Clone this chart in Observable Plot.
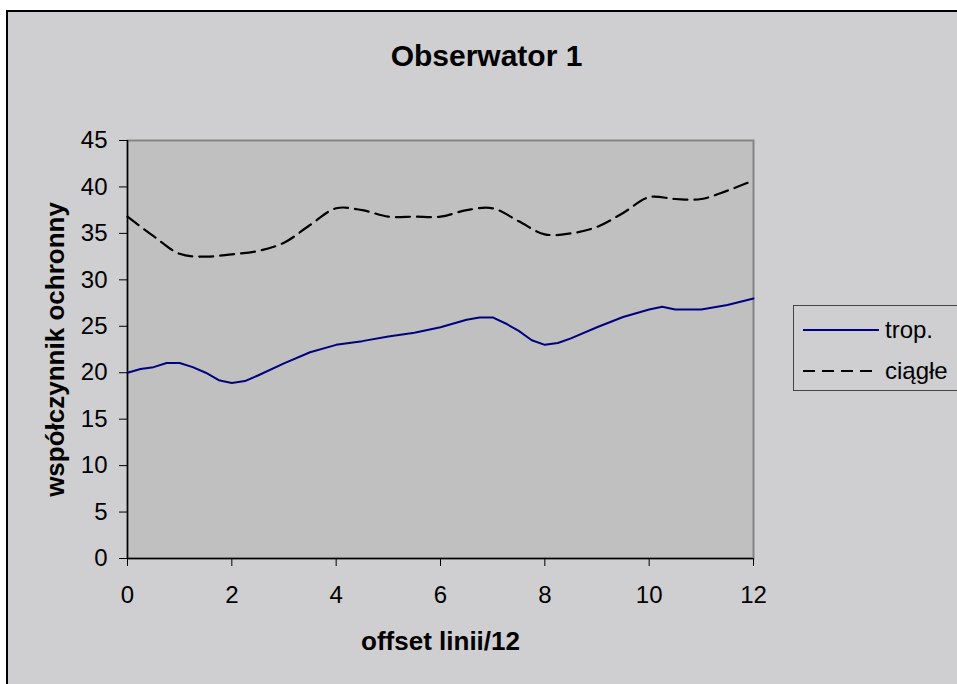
<!DOCTYPE html>
<html>
<head>
<meta charset="utf-8">
<script src="https://cdn.jsdelivr.net/npm/d3@7"></script>
<script src="https://cdn.jsdelivr.net/npm/@observablehq/plot@0.6"></script>
<style>
  body { margin: 0; background: #fff; }
  #wrap { position: relative; width: 957px; height: 684px; overflow: hidden; background: #fff; font-family: "Liberation Sans", Arial, sans-serif; }
  #area { position: absolute; left: 6px; top: 10px; width: 1000px; height: 720px; background: #cfcfd1; border-left: 2px solid #000; border-top: 2px solid #000; box-sizing: border-box; }
  #chart { position: absolute; left: 0; top: 0; }
  #legend { position: absolute; left: 793px; top: 305px; width: 180px; height: 86px; border: 1px solid #444; box-sizing: border-box; background: #cfcfd1; }
  #legend svg { display: block; }
</style>
</head>
<body>
<div id="wrap">
  <div id="area"></div>
  <div id="chart"></div>
  <div id="legend"></div>
</div>
<script>
// Series "trop." (solid navy line)
const offsetTrop = [0, 0.25, 0.5, 0.75, 1, 1.25, 1.5, 1.75, 2, 2.25, 2.5, 3, 3.5, 4, 4.5, 5, 5.5, 6, 6.5, 6.75, 7, 7.25, 7.5, 7.75, 8, 8.25, 8.5, 9, 9.5, 10, 10.25, 10.5, 11, 11.5, 12];
const trop = [20.0, 20.4, 20.6, 21.05, 21.05, 20.6, 20.0, 19.2, 18.9, 19.1, 19.7, 21.0, 22.2, 23.0, 23.4, 23.9, 24.3, 24.9, 25.7, 25.95, 25.95, 25.3, 24.5, 23.5, 23.0, 23.2, 23.7, 24.9, 26.0, 26.8, 27.1, 26.8, 26.8, 27.3, 28.0];

// Series "ciągłe" (dashed black line)
const offsetCiagle = [0, 0.5, 1, 1.5, 2, 2.5, 3, 3.5, 4, 4.5, 5, 5.5, 6, 6.5, 7, 7.5, 8, 8.5, 9, 9.5, 10, 10.5, 11, 11.5, 12];
const ciagle = [36.8, 34.7, 32.8, 32.5, 32.75, 33.1, 34.0, 35.9, 37.7, 37.5, 36.8, 36.8, 36.8, 37.5, 37.7, 36.3, 34.9, 35.0, 35.7, 37.2, 38.9, 38.7, 38.7, 39.6, 40.7];

// Axis ticks and labels
const xTicks = [0, 2, 4, 6, 8, 10, 12];
const yTicks = [0, 5, 10, 15, 20, 25, 30, 35, 40, 45];
const seriesNames = ["trop.", "ciągłe"];
const chartTitle = "Obserwator 1";
const xLabel = "offset linii/12";
const yLabel = "współczynnik ochronny";

const tropData = offsetTrop.map((x, i) => ({x, y: trop[i]}));
const ciagleData = offsetCiagle.map((x, i) => ({x, y: ciagle[i]}));

const font = "'Liberation Sans', Arial, sans-serif";

const chart = Plot.plot({
  width: 957,
  height: 684,
  marginLeft: 127,
  marginRight: 204,
  marginTop: 140,
  marginBottom: 126,
  style: {background: "transparent", fontFamily: font, fontSize: "24px", color: "#000"},
  x: {domain: [0, 12]},
  y: {domain: [0, 45]},
  marks: [
    Plot.frame({fill: "#c0c0c0", stroke: "#858585", strokeWidth: 2}),
    Plot.ruleX([0], {stroke: "#000", strokeWidth: 1.5}),
    Plot.ruleY([0], {stroke: "#000", strokeWidth: 1.5}),
    Plot.axisX(xTicks, {tickSize: 8, tickPadding: 19, fontSize: 24, label: null, stroke: "#000"}),
    Plot.axisY(yTicks, {tickSize: 8, tickPadding: 12, fontSize: 24, label: null, stroke: "#000"}),
    Plot.line(ciagleData, {x: "x", y: "y", stroke: "#000", strokeWidth: 2.2, strokeDasharray: "14,7", curve: "catmull-rom"}),
    Plot.line(tropData, {x: "x", y: "y", stroke: "#000080", strokeWidth: 2}),
    Plot.text([chartTitle], {frameAnchor: "top", lineAnchor: "middle", dx: 46, dy: -84, fontSize: 30, fontWeight: "bold", fill: "#000"}),
    Plot.text([xLabel], {frameAnchor: "bottom", lineAnchor: "middle", dy: 83, fontSize: 26, fontWeight: "bold", fill: "#000"}),
    Plot.text([yLabel], {frameAnchor: "left", lineAnchor: "middle", textAnchor: "middle", dx: -72, rotate: -90, fontSize: 26, fontWeight: "bold", fill: "#000"})
  ]
});
document.getElementById("chart").appendChild(chart);

// Legend box
const legendSvg = d3.create("svg").attr("width", 180).attr("height", 86);
const styles = [
  {stroke: "#000080", dash: null, y: 24},
  {stroke: "#000", dash: "12,7", y: 65}
];
seriesNames.forEach((name, i) => {
  const s = styles[i];
  legendSvg.append("line")
    .attr("x1", 9).attr("x2", 85).attr("y1", s.y).attr("y2", s.y)
    .attr("stroke", s.stroke).attr("stroke-width", 2)
    .attr("stroke-dasharray", s.dash);
  legendSvg.append("text")
    .attr("x", 91).attr("y", s.y).attr("dy", "0.32em")
    .attr("font-family", font).attr("font-size", 24).attr("fill", "#000")
    .text(name);
});
document.getElementById("legend").appendChild(legendSvg.node());
</script>
</body>
</html>
